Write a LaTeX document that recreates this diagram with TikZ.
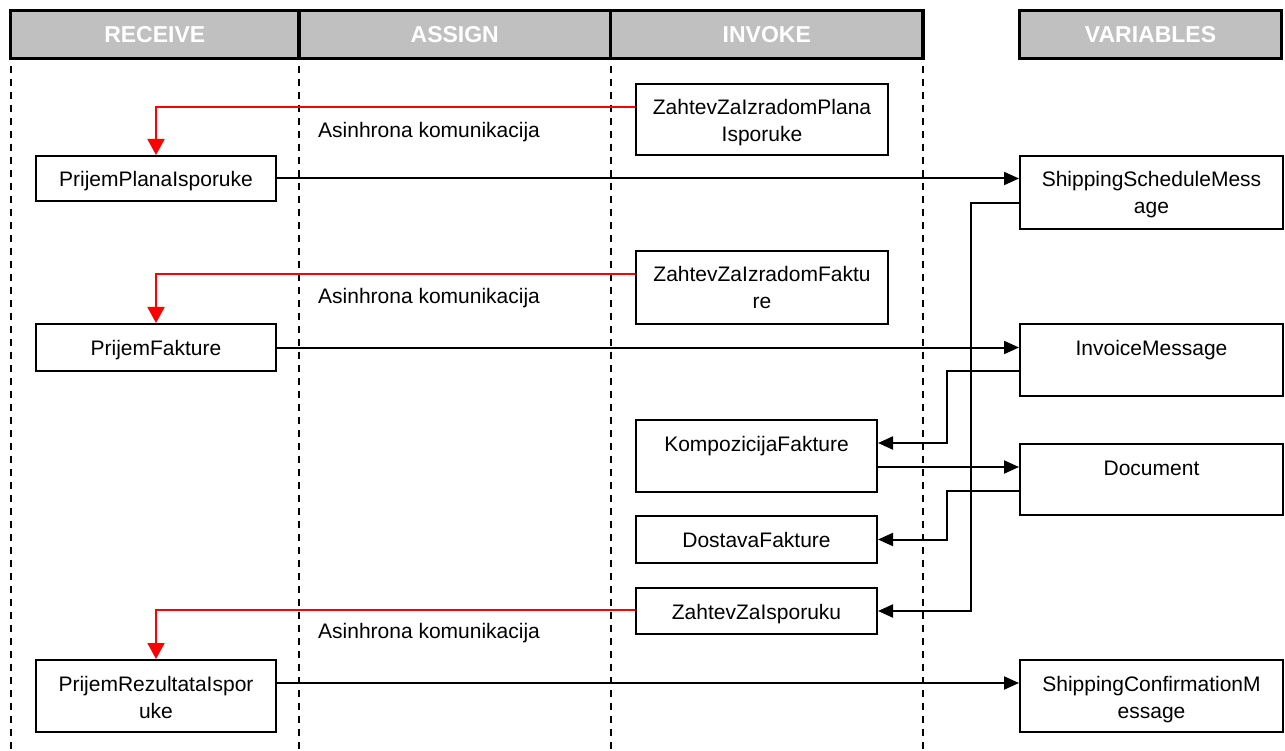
\documentclass[tikz,border=0pt]{standalone}
\usepackage{fontspec}
\setmainfont{Liberation Sans}
\usetikzlibrary{arrows.meta}
\definecolor{hdrgray}{HTML}{C0C0C0}
\definecolor{flowred}{HTML}{FF0000}
% text of a box: fixed size, lines set from the top
\newcommand{\cellbox}[3]{\parbox[c][#2][t]{#1}{\centering\fontsize{21}{27}\selectfont\rule{0pt}{31pt}#3}}
\tikzset{
  hdr/.style={draw=black, line width=3.5pt, fill=hdrgray, inner sep=0pt,
    text=white, font=\fontsize{23}{27}\selectfont\bfseries,
    text height=16.5pt, text depth=0pt},
  cell/.style={draw=black, line width=2pt, fill=white, inner sep=0pt, anchor=north west},
  lane/.style={line width=2pt, dash pattern=on 7pt off 6pt},
  msg/.style={line width=2pt, -{Triangle[length=15pt,width=13pt]}},
  async/.style={draw=flowred, line width=1.8pt, -{Triangle[length=16pt,width=17pt]}},
  note/.style={anchor=west, inner sep=0pt, font=\fontsize{21}{27}\selectfont}
}
\begin{document}
\begin{tikzpicture}[x=1pt, y=-1pt]
\useasboundingbox (0,0) rectangle (1285,751);

% swimlane separators
\coordinate (l0) at (11,66);
\coordinate (l1) at (299,66);
\coordinate (l2) at (610.5,66);
\coordinate (l3) at (923,66);
\foreach \c in {l0,l1,l2,l3}
  \draw[lane] (\c) -- (\c |- 0,751);

% header cells
\node[hdr, minimum width=288.5pt, minimum height=48.2pt] (hrec) at (154.75,34.6) {RECEIVE};
\node[hdr, minimum width=311.5pt, minimum height=48.2pt] (hasg) at (454.75,34.6) {ASSIGN};
\node[hdr, minimum width=312.5pt, minimum height=48.2pt] (hinv) at (766.75,34.6) {INVOKE};
\node[hdr, minimum width=262pt, minimum height=48.2pt] (hvar) at (1150.5,34.6) {VARIABLES};

% RECEIVE lane
\node[cell] (p1) at (35,155) {\cellbox{240pt}{45pt}{PrijemPlanaIsporuke}};
\node[cell] (p2) at (35,323) {\cellbox{240pt}{47pt}{PrijemFakture}};
\node[cell] (p3) at (35,659) {\cellbox{240pt}{72pt}{PrijemRezultataIspor\\uke}};

% INVOKE lane
\node[cell] (z1) at (635,83) {\cellbox{252pt}{71pt}{ZahtevZaIzradomPlana\\Isporuke}};
\node[cell] (z2) at (635,250) {\cellbox{252pt}{73pt}{ZahtevZaIzradomFaktu\\re}};
\node[cell] (kf) at (635,419) {\cellbox{241pt}{72pt}{KompozicijaFakture}};
\node[cell] (df) at (635,515) {\cellbox{241pt}{47pt}{DostavaFakture}};
\node[cell] (zi) at (635,587) {\cellbox{241pt}{46pt}{ZahtevZaIsporuku}};

% VARIABLES lane
\node[cell] (ssm) at (1019,155) {\cellbox{263pt}{73pt}{ShippingScheduleMess\\age}};
\node[cell] (inv) at (1019,323) {\cellbox{263pt}{72pt}{InvoiceMessage}};
\node[cell] (doc) at (1019,443) {\cellbox{263pt}{71pt}{Document}};
\node[cell] (scm) at (1019,659) {\cellbox{263pt}{72pt}{ShippingConfirmationM\\essage}};

% asynchronous labels
\node[note] (a1) at (318,132) {Asinhrona komunikacija};
\node[note] (a2) at (318,298) {Asinhrona komunikacija};
\node[note] (a3) at (318,633) {Asinhrona komunikacija};

% asynchronous calls back to the receive activities
\draw[async] ([yshift=-24pt]z1.north west) -| (p1.north);
\draw[async] ([yshift=-24pt]z2.north west) -| (p2.north);
\draw[async] ([yshift=-23pt]zi.north west) -| (p3.north);

% writes into variables
\draw[msg] (p1.east) -- (p1.east -| ssm.west);
\draw[msg] (p2.east) -- (p2.east -| inv.west);
\draw[msg] ([yshift=-24pt]p3.north east) -- ([yshift=-24pt]scm.north west);
\draw[msg] ([yshift=-48pt]kf.north east) -- ([yshift=-24pt]doc.north west);

% reads from variables
\coordinate (j1) at (947,0);
\coordinate (j2) at (971,0);
\draw[msg] ([yshift=-48pt]inv.north west) -- ([yshift=-48pt]inv.north west -| j1) |- ([yshift=-24pt]kf.north east);
\draw[msg] ([yshift=-48pt]doc.north west) -- ([yshift=-48pt]doc.north west -| j1) |- (df.east);
\draw[msg] ([yshift=-48pt]ssm.north west) -- ([yshift=-48pt]ssm.north west -| j2) |- (zi.east);
\end{tikzpicture}
\end{document}
